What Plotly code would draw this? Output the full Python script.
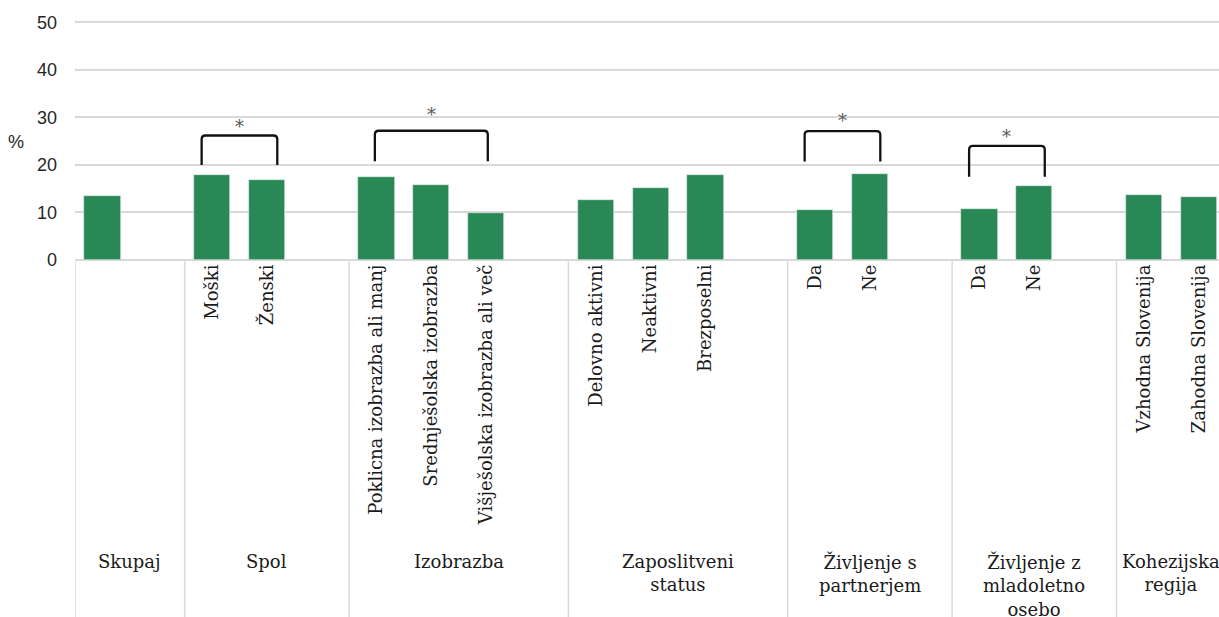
import plotly.graph_objects as go

# skupine (spodnja vrstica oznak) in kategorije znotraj skupin
skupine = ["Skupaj", "Spol", "Izobrazba", "Zaposlitveni<br>status",
           "Življenje s<br>partnerjem", "Življenje z<br>mladoletno<br>osebo",
           "Kohezijska<br>regija"]
kategorije = [
    [""],
    ["Moški", "Ženski"],
    ["Poklicna izobrazba ali manj", "Srednješolska izobrazba",
     "Višješolska izobrazba ali več"],
    ["Delovno aktivni", "Neaktivni", "Brezposelni"],
    ["Da", "Ne"],
    ["Da", "Ne"],
    ["Vzhodna Slovenija", "Zahodna Slovenija"],
]
vrednosti = [
    [13.5],
    [17.9, 16.9],
    [17.4, 15.8, 9.9],
    [12.7, 15.1, 17.8],
    [10.6, 18.1],
    [10.8, 15.6],
    [13.7, 13.3],
]

# statisticno znacilne razlike (*): skupina, vrh oklepaja, dno krakov, visina zvezdice
oklepaj_skupina = [1, 2, 4, 5]
oklepaj_vrh = [26.2, 27.2, 27.1, 24.0]
oklepaj_dno = [20.0, 20.8, 20.7, 17.5]
zvezdica_y = [29.0, 31.5, 30.1, 26.8]

ZELENA = "#2a8856"
SIVA = "#d9d9d9"
SERIF = "DejaVu Serif"
SLOT = 54.82  # sirina enega mesta v px
LEVO = 75

# polozaji stolpcev: za vsako skupino prazno mesto (razen zadnje)
x_stolpci, y_stolpci, oznake = [], [], []
meje, sredine, stolpci_skupine = [], [], []
zacetek = 0
for g, (kat, vr) in enumerate(zip(kategorije, vrednosti)):
    meje.append(zacetek)
    pos = []
    for i, (k, v) in enumerate(zip(kat, vr)):
        x_stolpci.append(zacetek + i + 0.5)
        y_stolpci.append(v)
        oznake.append(k)
        pos.append(zacetek + i + 0.5)
    stolpci_skupine.append(pos)
    sirina = len(kat) + (1 if g < len(kategorije) - 1 else 0)
    sredine.append(zacetek + sirina / 2)
    zacetek += sirina

fig = go.Figure()
fig.add_trace(go.Bar(
    x=x_stolpci,
    y=y_stolpci,
    width=0.66,
    marker=dict(color=ZELENA, line=dict(color="#e6f0ea", width=0.6)),
    hoverinfo="y",
))

# navpicne locnice med skupinami
for m in meje:
    fig.add_shape(type="line", xref="x", yref="paper", x0=m, x1=m, y0=0, y1=-1.7,
                  line=dict(color=SIVA, width=1.5), layer="below")

# imena skupin
for s, ime in zip(sredine, skupine):
    fig.add_annotation(x=s, xref="x", y=0, yref="paper", yshift=-289,
                       yanchor="top", xanchor="center", text=ime, showarrow=False,
                       font=dict(family=SERIF, size=18, color="#1a1a1a"))

# oklepaji z zvezdicami
rx, ry = 0.07, 0.8
for g, vrh, dno, zy in zip(oklepaj_skupina, oklepaj_vrh, oklepaj_dno, zvezdica_y):
    pad = 0.03 if g == 2 else 0.19
    xl = stolpci_skupine[g][0] - pad
    xr = stolpci_skupine[g][-1] + pad
    pot = (f"M {xl},{dno} L {xl},{vrh - ry} Q {xl},{vrh} {xl + rx},{vrh} "
           f"L {xr - rx},{vrh} Q {xr},{vrh} {xr},{vrh - ry} L {xr},{dno}")
    fig.add_shape(type="path", xref="x", yref="y", path=pot,
                  line=dict(color="#111111", width=2.3))
    fig.add_annotation(x=(xl + xr) / 2, y=zy, xref="x", yref="y", yshift=-4,
                       text="*", showarrow=False,
                       font=dict(family=SERIF, size=18, color="#595959"))

# oznaka osi y
fig.add_annotation(x=0, xref="paper", xshift=-59, y=24.8, yref="y", text="%",
                   showarrow=False, xanchor="center",
                   font=dict(family="Liberation Sans", size=18, color="#262626"))

# obseg osi y malo nad 50, sicer plotly skrije zgornjo mrezno crto
fig.update_layout(
    width=1219,
    height=617,
    margin=dict(l=LEVO, r=0, t=20, b=357),
    plot_bgcolor="white",
    paper_bgcolor="white",
    showlegend=False,
    bargap=0,
)
fig.update_xaxes(
    range=[0, (1219 - LEVO) / SLOT],
    tickvals=x_stolpci,
    ticktext=oznake,
    tickangle=-90,
    ticks="",
    tickfont=dict(family=SERIF, size=18, color="#1a1a1a"),
    showgrid=False,
    zeroline=False,
    showline=False,
    automargin=False,
)
fig.update_yaxes(
    range=[0, 50.5],
    tickvals=[0, 10, 20, 30, 40, 50],
    showgrid=True,
    gridcolor=SIVA,
    gridwidth=1.5,
    zeroline=True,
    zerolinecolor=SIVA,
    zerolinewidth=1.5,
    showline=False,
    ticks="",
    ticklabelstandoff=17,
    tickfont=dict(family="Liberation Sans", size=18, color="#262626"),
    automargin=False,
)

# brez privzetega roba strani, da slika zapolni okno
fig.write_html("out.html", config={"displayModeBar": False},
               post_script="document.body.style.margin='0';")
